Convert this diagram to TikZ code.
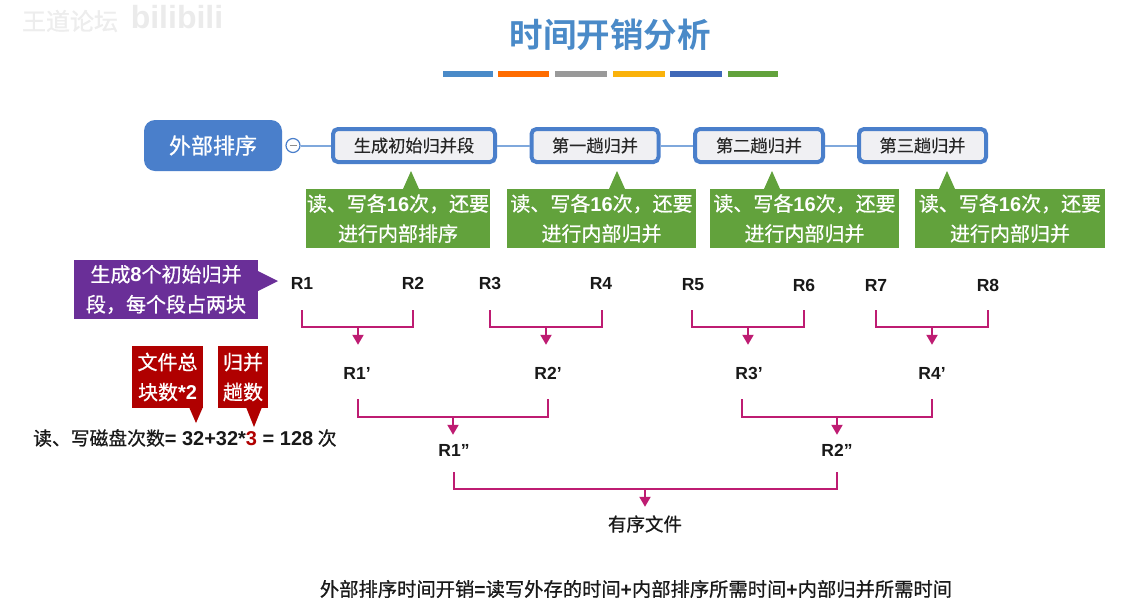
\documentclass[tikz,border=0pt]{standalone}
\usepackage{fontspec}
\setmainfont{Noto Sans CJK SC}[FakeBold=0.7]
\newfontfamily\plainfont{Noto Sans CJK SC}[FakeBold=0.25]
\newfontfamily\strongfont{Noto Sans CJK SC Bold}
\newfontfamily\latfont{Liberation Sans Bold}
\newcommand{\la}[1]{{\latfont #1}}
\definecolor{titleblue}{HTML}{4A8AC8}
\definecolor{mainblue}{HTML}{4A7FCB}
\definecolor{linkblue}{HTML}{7FA8DC}
\definecolor{boxfill}{HTML}{F0F0F3}
\definecolor{notegreen}{HTML}{62A23C}
\definecolor{notepurple}{HTML}{6A2F98}
\definecolor{notered}{HTML}{B00000}
\definecolor{mergepink}{HTML}{BE1C72}
\definecolor{bardeep}{HTML}{3F68B8}
\usetikzlibrary{arrows.meta,calc}
\tikzset{
  x=1pt,y=-1pt,
  stage/.style={draw=mainblue,line width=4pt,fill=boxfill,rounded corners=5pt,inner sep=0pt,
    font=\plainfont\fontsize{17.2}{20}\selectfont,text=black!85},
  link/.style={draw=linkblue,line width=2pt},
  note/.style={inner sep=0pt,text=white,align=center,font=\fontsize{20}{30}\selectfont},
  rlabel/.style={inner sep=0pt,text=black!90,minimum height=18pt,font=\fontsize{17.5}{20}\selectfont},
  merge/.style={draw=mergepink,line width=2pt},
  mergearrow/.style={merge,-{Triangle[length=10pt,width=11pt]}},
  bar/.style={line width=0pt},
}
\begin{document}
\begin{tikzpicture}
\useasboundingbox (0,0) rectangle (1129,614);
\fill[white] (0,0) rectangle (1129,614);
% watermark
\node[inner sep=0pt,text=black!7,font=\fontsize{24}{24}\selectfont] (wm1) at (70,21) {王道论坛};
\node[inner sep=0pt,text=black!8,font=\latfont\fontsize{32}{32}\selectfont] (wm2) at (177,17) {bilibili};
% title
\node[inner sep=0pt,text=titleblue,font=\strongfont\fontsize{33.5}{36}\selectfont] (title) at (610,35) {时间开销分析};
\fill[bar,fill=titleblue] (443,71) rectangle (493,77);
\fill[bar,fill=orange!85!red] (498,71) rectangle (549,77);
\fill[bar,fill=black!40] (555,71) rectangle (607,77);
\fill[bar,fill=yellow!40!orange] (613,71) rectangle (665,77);
\fill[bar,fill=bardeep] (670,71) rectangle (722,77);
\fill[bar,fill=notegreen] (728,71) rectangle (778,77);
% top row
\node[fill=mainblue,rounded corners=11pt,inner sep=0pt,minimum width=138pt,minimum height=51pt,text=white,
  font=\fontsize{22}{24}\selectfont] (main) at (213,145.5) {外部排序};
\node[circle,draw=mainblue,line width=1.2pt,fill=white,minimum size=14pt,inner sep=0pt] (minus) at (293,145.5) {};
\draw[black!45,line width=1pt] ($(minus)+(-3.5,0)$) -- ($(minus)+(3.5,0)$);
\node[stage,minimum width=162pt,minimum height=33pt] (s1) at (414,145.5) {生成初始归并段};
\node[stage,minimum width=127pt,minimum height=33pt] (s2) at (595,145.5) {第一趟归并};
\node[stage,minimum width=128pt,minimum height=33pt] (s3) at (759,145.5) {第二趟归并};
\node[stage,minimum width=127pt,minimum height=33pt] (s4) at (922.5,145.5) {第三趟归并};
\draw[link] (minus) -- (s1);
\draw[link] (s1) -- (s2);
\draw[link] (s2) -- (s3);
\draw[link] (s3) -- (s4);
% green notes
\fill[notegreen] (411,171) -- (403,189) -- (419,189) -- cycle;
\fill[notegreen] (617,171) -- (609,189) -- (625,189) -- cycle;
\fill[notegreen] (772,171) -- (764,189) -- (780,189) -- cycle;
\fill[notegreen] (947,171) -- (939,189) -- (955,189) -- cycle;
\node[note,fill=notegreen,minimum width=184pt,minimum height=59pt] (g1) at (398,218.5) {读、写各\la{16}次，还要\\进行内部排序};
\node[note,fill=notegreen,minimum width=189pt,minimum height=59pt] (g2) at (601.5,218.5) {读、写各\la{16}次，还要\\进行内部归并};
\node[note,fill=notegreen,minimum width=189pt,minimum height=59pt] (g3) at (804.5,218.5) {读、写各\la{16}次，还要\\进行内部归并};
\node[note,fill=notegreen,minimum width=190pt,minimum height=59pt] (g4) at (1010,218.5) {读、写各\la{16}次，还要\\进行内部归并};
% purple note
\fill[notepurple] (278,281) -- (258,271) -- (258,291) -- cycle;
\node[note,fill=notepurple,minimum width=184pt,minimum height=59pt] (p) at (166,289.5) {生成\la{8}个初始归并\\段，每个段占两块};
% red notes
\fill[notered] (196,423) -- (189,407) -- (203,407) -- cycle;
\fill[notered] (254,427) -- (246,407) -- (262,407) -- cycle;
\node[note,fill=notered,minimum width=71pt,minimum height=62pt] (q1) at (167.5,377) {文件总\\块数\la{*2}};
\node[note,fill=notered,minimum width=50pt,minimum height=62pt] (q2) at (243,377) {归并\\趟数};
% formula
\node[anchor=west,inner sep=0pt,text=black!90,font=\fontsize{18.8}{22}\selectfont] (f) at (33,438)
  {读、写磁盘次数{\fontsize{20}{22}\selectfont\la{= 32+32*{\color{notered}3} = 128} }次};
% R labels
\node[rlabel] (r1) at (302,283) {\la{R1}};
\node[rlabel] (r2) at (413,283) {\la{R2}};
\node[rlabel] (r3) at (490,283) {\la{R3}};
\node[rlabel] (r4) at (601,283) {\la{R4}};
\node[rlabel] (r5) at (693,285) {\la{R5}};
\node[rlabel] (r6) at (804,285) {\la{R6}};
\node[rlabel] (r7) at (876,285) {\la{R7}};
\node[rlabel] (r8) at (988,285) {\la{R8}};
\node[rlabel] (a1) at (357,373) {\la{R1’}};
\node[rlabel] (a2) at (548,373) {\la{R2’}};
\node[rlabel] (a3) at (749,373) {\la{R3’}};
\node[rlabel] (a4) at (932,373) {\la{R4’}};
\node[rlabel] (b1) at (454,450) {\la{R1”}};
\node[rlabel] (b2) at (837,450) {\la{R2”}};
\node[rlabel,font=\fontsize{18.5}{20}\selectfont] (out) at (645,524) {有序文件};
% merge brackets
\coordinate (j1) at (358,327); \coordinate (j2) at (546,327);
\coordinate (j3) at (748,327); \coordinate (j4) at (932,327);
\coordinate (k1) at (453,417); \coordinate (k2) at (837,417);
\coordinate (m1) at (645,489);
\draw[merge,shorten <=18pt,shorten >=18pt] (r1.south) |- (j1) -| (r2.south);
\draw[merge,shorten <=18pt,shorten >=18pt] (r3.south) |- (j2) -| ([xshift=1pt]r4.south);
\draw[merge,shorten <=16pt,shorten >=16pt] ([xshift=-1pt]r5.south) |- (j3) -| (r6.south);
\draw[merge,shorten <=16pt,shorten >=16pt] (r7.south) |- (j4) -| (r8.south);
\draw[merge,shorten <=17pt,shorten >=17pt] ([xshift=1pt]a1.south) |- (k1) -| (a2.south);
\draw[merge,shorten <=17pt,shorten >=17pt] ([xshift=-7pt]a3.south) |- (k2) -| (a4.south);
\draw[merge,shorten <=13pt,shorten >=13pt] (b1.south) |- (m1) -| (b2.south);
\draw[mergearrow,shorten >=19pt] (j1) -- (j1 |- a1.north);
\draw[mergearrow,shorten >=19pt] (j2) -- (j2 |- a2.north);
\draw[mergearrow,shorten >=19pt] (j3) -- (j3 |- a3.north);
\draw[mergearrow,shorten >=19pt] (j4) -- (j4 |- a4.north);
\draw[mergearrow,shorten >=6pt] (k1) -- (k1 |- b1.north);
\draw[mergearrow,shorten >=6pt] (k2) -- (k2 |- b2.north);
\draw[mergearrow,shorten >=8pt] (m1) -- (m1 |- out.north);
% bottom text
\node[inner sep=0pt,text=black!90,font=\fontsize{19.3}{22}\selectfont] (bottom) at (636,589) {外部排序时间开销\la{=}读写外存的时间\la{+}内部排序所需时间\la{+}内部归并所需时间};
\end{tikzpicture}
\end{document}
